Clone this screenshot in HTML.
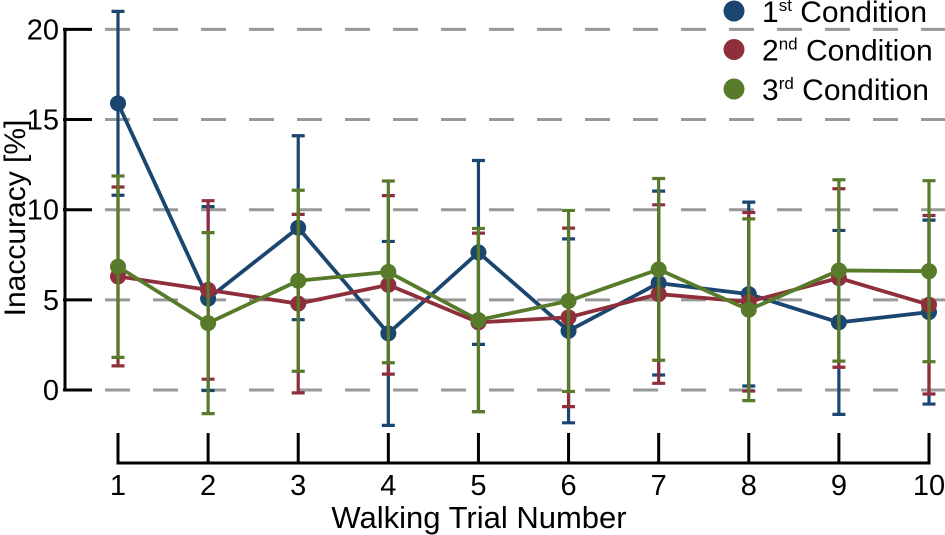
<!DOCTYPE html>
<html><head><meta charset="utf-8"><style>
html,body{margin:0;padding:0;background:#fff}
svg{display:block;font-family:"Liberation Sans",Arial,sans-serif}
</style></head><body>
<svg id="chart" width="945" height="535" viewBox="0 0 945 535" xmlns="http://www.w3.org/2000/svg">
<g id="grid"></g>
<g id="axes"></g>
<g id="series"></g>
<g id="legend"></g>
</svg>
<script>
const trials = [1,2,3,4,5,6,7,8,9,10];
const yTicks = [0,5,10,15,20];
const seriesNames = ["1st Condition","2nd Condition","3rd Condition"];
const blueMeans = [15.9,5.07,9.0,3.14,7.63,3.28,5.93,5.32,3.75,4.32];
const blueSD = [5.1,5.1,5.1,5.1,5.1,5.1,5.1,5.1,5.1,5.1];
const redMeans = [6.3,5.55,4.79,5.83,3.75,4.03,5.32,4.89,6.21,4.73];
const redSD = [4.96,4.95,4.95,4.95,4.95,4.95,4.95,4.95,4.95,4.95];
const greenMeans = [6.84,3.71,6.06,6.55,3.88,4.94,6.69,4.45,6.63,6.59];
const greenSD = [5.03,5.02,5.02,5.04,5.08,5.02,5.04,5.04,5.03,5.02];

const NS="http://www.w3.org/2000/svg";
function xS(v){return 118+(v-1)*(929-118)/9;}
function yS(v){return 390-v*(390-29.4)/20;}
function mk(tag,attrs,parent){const e=document.createElementNS(NS,tag);for(const k in attrs)e.setAttribute(k,attrs[k]);parent.appendChild(e);return e;}

const grid=document.getElementById('grid'),axes=document.getElementById('axes'),ser=document.getElementById('series'),leg=document.getElementById('legend');

yTicks.forEach(t=>{
  const g=mk('line',{x1:105,x2:945,y1:yS(t),y2:yS(t),stroke:'#999',"stroke-width":3,"stroke-dasharray":"25 23"},grid);
  
  
  const tk=mk('line',{x1:63,x2:92,y1:yS(t),y2:yS(t),stroke:'#000',"stroke-width":3},axes);
  
  
  const tl=mk('text',{x:59,y:yS(t)+10,"text-anchor":"end","font-size":29},axes);
  tl.textContent=t;
  
  
});
const ya=mk('line',{x1:65,x2:65,y1:yS(20)-1.5,y2:yS(0)+1.5,stroke:'#000',"stroke-width":3},axes);


const xa=mk('line',{x1:xS(1)-1.5,x2:xS(10)+1.5,y1:463,y2:463,stroke:'#000',"stroke-width":3},axes);


trials.forEach(t=>{
  const tk=mk('line',{x1:xS(t),x2:xS(t),y1:433,y2:463,stroke:'#000',"stroke-width":3},axes);
  
  
  const tl=mk('text',{x:xS(t),y:495,"text-anchor":"middle","font-size":29},axes);
  tl.textContent=t;
  
  
});
const yt=mk('text',{transform:"translate(25,218) rotate(-90)","text-anchor":"middle","font-size":30},axes);
yt.textContent="Inaccuracy [%]";


const xt=mk('text',{x:479,y:528,"text-anchor":"middle","font-size":31},axes);
xt.textContent="Walking Trial Number";



const allSeries=[[blueMeans,blueSD,'#1a4670','blue'],[redMeans,redSD,'#8e2f3b','red'],[greenMeans,greenSD,'#577a2b','green']];
allSeries.forEach(([m,sd,c,nm])=>{
  const g=mk('g',{},ser);
  
  
  trials.forEach((t,i)=>{
    const x=xS(t),yt=yS(m[i]+sd[i]),yb=yS(m[i]-sd[i]);
    const eb=mk('path',{d:`M${x},${yt}V${yb}M${x-6.5},${yt}H${x+6.5}M${x-6.5},${yb}H${x+6.5}`,stroke:c,"stroke-width":3.2,fill:'none'},g);
    
    
  });
  const pl=mk('polyline',{points:trials.map((t,i)=>xS(t)+','+yS(m[i])).join(' '),stroke:c,"stroke-width":3.8,fill:'none'},g);
  
  
  trials.forEach((t,i)=>{
    const p=mk('circle',{cx:xS(t),cy:yS(m[i]),r:8,fill:c},g);
    
    
  });
});

const sups=[["1","st"],["2","nd"],["3","rd"]];
const legY=[11,49.5,89];
allSeries.forEach(([m,sd,c,nm],i)=>{
  const y=legY[i];
  const e=mk('g',{},leg);
  
  
  mk('circle',{cx:734,cy:y,r:10.5,fill:c},e);
  const t=mk('text',{x:762,y:y+11,"font-size":30},e);
  const a=document.createElementNS(NS,'tspan');a.textContent=sups[i][0];t.appendChild(a);
  const b=document.createElementNS(NS,'tspan');b.setAttribute('font-size','17');b.setAttribute('dy','-11');b.textContent=sups[i][1];t.appendChild(b);
  const d=document.createElementNS(NS,'tspan');d.setAttribute('dy','11');d.textContent=" Condition";t.appendChild(d);
});
</script>
</body></html>
